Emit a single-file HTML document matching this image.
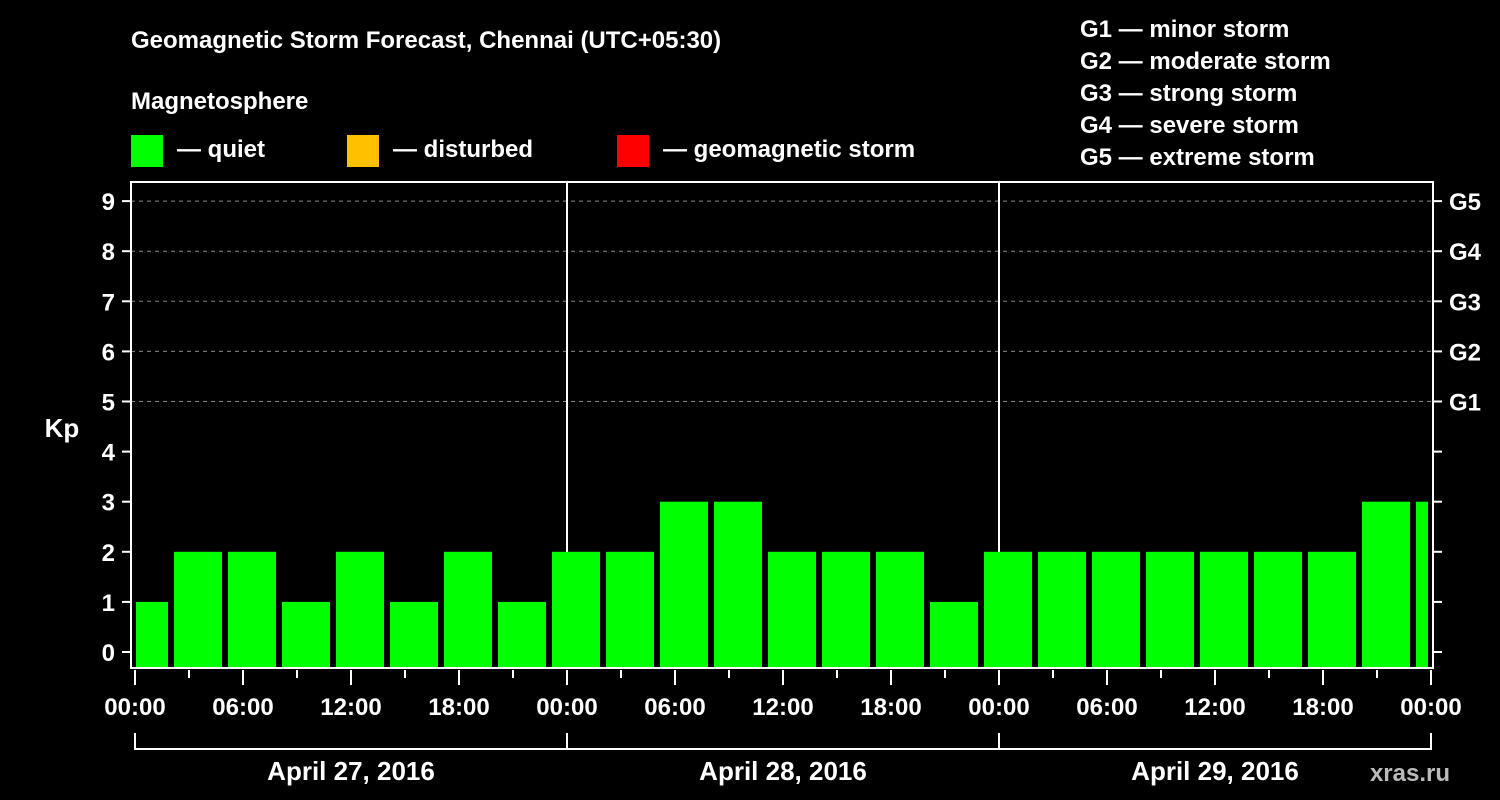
<!DOCTYPE html>
<html><head><meta charset="utf-8"><style>
body{margin:0;background:#000;}
svg{display:block;font-family:"Liberation Sans",Arial,sans-serif;font-weight:bold;}
</style></head><body>
<svg id="c" width="1500" height="800" viewBox="0 0 1500 800">
<rect width="1500" height="800" fill="#000"/>
<text x="131" y="48" fill="#fff" font-size="24">Geomagnetic Storm Forecast, Chennai (UTC+05:30)</text>
<text x="131" y="109" fill="#fff" font-size="24">Magnetosphere</text>
<g><rect x="131" y="135" width="32" height="32" fill="#00ff00"/><text x="177" y="157" fill="#fff" font-size="24">— quiet</text></g>
<g><rect x="347" y="135" width="32" height="32" fill="#ffc000"/><text x="393" y="157" fill="#fff" font-size="24">— disturbed</text></g>
<g><rect x="617" y="135" width="32" height="32" fill="#ff0000"/><text x="663" y="157" fill="#fff" font-size="24">— geomagnetic storm</text></g>
<g fill="#fff" font-size="24">
<text x="1080" y="37">G1 — minor storm</text>
<text x="1080" y="69">G2 — moderate storm</text>
<text x="1080" y="101">G3 — strong storm</text>
<text x="1080" y="133">G4 — severe storm</text>
<text x="1080" y="165">G5 — extreme storm</text>
</g>
<text x="62" y="437" fill="#fff" font-size="26" text-anchor="middle">Kp</text>
<text x="1450" y="781" fill="#bbb" font-size="24" text-anchor="end">xras.ru</text>
<g id="grid"></g><g id="bars"></g><g id="axes"></g>
</svg>
<script>
const kpValues=[1,2,2,1,2,1,2,1,2,2,3,3,2,2,2,1,2,2,2,2,2,2,2,3,3];
const yTicks=[0,1,2,3,4,5,6,7,8,9];
const gLabels=["G1","G2","G3","G4","G5"];
const gLevels=[5,6,7,8,9];
const xTickLabels=["00:00","06:00","12:00","18:00"];
const dayLabels=["April 27, 2016","April 28, 2016","April 29, 2016"];
const NS="http://www.w3.org/2000/svg";
const L=131,R=1433,T=182,B=668,X0=135,PXH=18;
const y=v=>652-v*50.1;
const x=h=>X0+h*PXH;
function mk(p,tag,a){const e=document.createElementNS(NS,tag);for(const k in a)e.setAttribute(k,a[k]);p.appendChild(e);return e;}
const grid=document.getElementById('grid'),bars=document.getElementById('bars'),axes=document.getElementById('axes');
gLevels.forEach(v=>{const l=mk(grid,'line',{x1:L,x2:R,y1:y(v),y2:y(v),stroke:'#888','stroke-dasharray':'4,4','stroke-width':1});

});
for(let d=1;d<3;d++){const l=mk(grid,'line',{x1:x(24*d),x2:x(24*d),y1:T,y2:B,stroke:'#fff','stroke-width':2});

}
kpValues.forEach((v,i)=>{
 let x1=x(-1+3*i)+3,x2=x(2+3*i)-3;x1=Math.max(x1,L+5);x2=Math.min(x2,R-5);
 const col=v>=5?'#ff0000':(v>=4?'#ffc000':'#00ff00');
 const r=mk(bars,'rect',{x:x1,y:y(v),width:x2-x1,height:B-y(v),fill:col});
 
 
});
const fr=mk(axes,'rect',{x:L,y:T,width:R-L,height:B-T,fill:'none',stroke:'#fff','stroke-width':2});


yTicks.forEach(v=>{
 mk(axes,'line',{x1:L-9,x2:L,y1:y(v),y2:y(v),stroke:'#fff','stroke-width':2});
 mk(axes,'line',{x1:R,x2:R+9,y1:y(v),y2:y(v),stroke:'#fff','stroke-width':2});
 const t=mk(axes,'text',{x:L-16,y:y(v)+9,fill:'#fff','font-size':24,'text-anchor':'end'});t.textContent=v;
 
 
});
gLabels.forEach((g,i)=>{const t=mk(axes,'text',{x:1449,y:y(gLevels[i])+9,fill:'#fff','font-size':24});t.textContent=g;
 
 });
for(let h=0;h<=72;h+=3){const maj=h%6==0;mk(axes,'line',{x1:x(h),x2:x(h),y1:B+2,y2:B+(maj?17:10),stroke:'#fff','stroke-width':2});}
for(let d=0;d<3;d++){
 xTickLabels.forEach((s,j)=>{const t=mk(axes,'text',{x:x(24*d+6*j),y:715,fill:'#fff','font-size':24,'text-anchor':'middle'});t.textContent=s;
 
 });
 const dl=mk(axes,'text',{x:x(24*d+12),y:780,fill:'#fff','font-size':26,'text-anchor':'middle'});dl.textContent=dayLabels[d];
 
 
 mk(axes,'polyline',{points:`${x(24*d)},733 ${x(24*d)},749 ${x(24*d+24)},749 ${x(24*d+24)},733`,fill:'none',stroke:'#fff','stroke-width':2});
}
const e=mk(axes,'text',{x:x(72),y:715,fill:'#fff','font-size':24,'text-anchor':'middle'});e.textContent="00:00";


</script>
</body></html>
